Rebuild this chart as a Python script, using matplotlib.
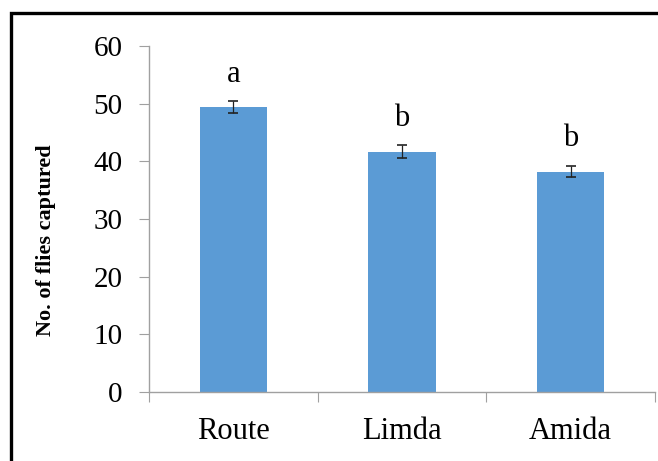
import matplotlib.pyplot as plt
from matplotlib.patches import Rectangle
import numpy as np

# flies captured per trap type, mean and standard error
traps = ['Route', 'Limda', 'Amida']
flies = [49.4, 41.7, 38.2]
sem = [1.0, 1.1, 1.0]
letters = ['a', 'b', 'b']

plt.rcParams['font.family'] = 'Liberation Serif'

fig = plt.figure(figsize=(6.58, 4.61), dpi=100)
ax = fig.add_axes([0.2264, 0.1497, 0.7690, 0.7505])

barcol = '#5B9BD5'
axcol = '#A0A0A0'

x = np.arange(len(traps)) + 0.5
ax.bar(x, flies, width=0.4, color=barcol, zorder=2)
ax.errorbar(x, flies, yerr=sem, fmt='none', ecolor='#222222',
            elinewidth=0.9, capsize=3.5, capthick=1.2, zorder=3)

for xi, yi, ei, lab in zip(x, flies, sem, letters):
    ax.annotate(lab, (xi, yi + ei), xytext=(0, 9), textcoords='offset points',
                ha='center', va='bottom', fontsize=22)

ax.set_xlim(0, 3)
ax.set_ylim(0, 60)
ax.set_yticks(range(0, 61, 10))
ax.tick_params(axis='y', labelsize=21, length=7, color=axcol, pad=12)

# boundary ticks between categories, labels sit in the middle
ax.set_xticks([0, 1, 2, 3])
ax.set_xticklabels([])
ax.set_xticks(x, minor=True)
ax.set_xticklabels(traps, minor=True)
ax.tick_params(axis='x', which='major', length=7, color=axcol)
ax.tick_params(axis='x', which='minor', length=0, labelsize=22, pad=18)

for side in ['top', 'right']:
    ax.spines[side].set_visible(False)
for side in ['left', 'bottom']:
    ax.spines[side].set_color(axcol)
    ax.spines[side].set_linewidth(1)

ax.set_ylabel('No. of flies captured', fontsize=16, fontweight='bold')
ax.yaxis.set_label_coords(-0.183, 0.44)

# outer frame around the chart
frame = Rectangle((11 / 658, -0.1), 1.2, 1 - 13 / 461 + 0.1,
                  transform=fig.transFigure, fill=False,
                  edgecolor='black', linewidth=2.4)
fig.add_artist(frame)

fig.savefig('out.png', dpi=100)
